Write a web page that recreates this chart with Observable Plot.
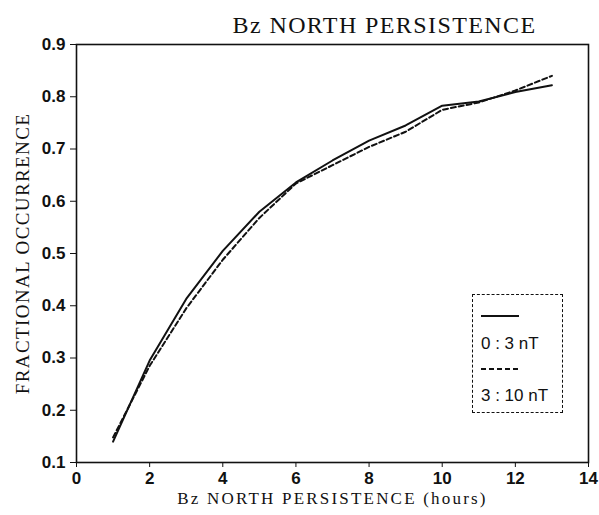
<!DOCTYPE html>
<html>
<head>
<meta charset="utf-8">
<script src="https://cdn.jsdelivr.net/npm/d3@7"></script>
<script src="https://cdn.jsdelivr.net/npm/@observablehq/plot@0.6"></script>
<style>
  html, body { margin: 0; padding: 0; background: #fff; }
  #wrap { position: relative; width: 599px; height: 515px; }
  #legend { position: absolute; left: 472px; top: 294px; width: 91px; height: 119px;
            border: 1.5px dashed #111; box-sizing: border-box; }
  .lg { position: absolute; font-family: "Liberation Sans", Arial, sans-serif; font-size: 17px; color: #111; white-space: nowrap; }
</style>
</head>
<body>
<div id="wrap"></div>
<script>
const hours = [1, 2, 3, 4, 5, 6, 7, 8, 9, 10, 11, 12, 13];
const solid03 = [0.14, 0.295, 0.413, 0.505, 0.58, 0.636, 0.678, 0.716, 0.745, 0.783, 0.791, 0.809, 0.822];
const dashed310 = [0.148, 0.285, 0.395, 0.488, 0.568, 0.634, 0.669, 0.704, 0.733, 0.775, 0.789, 0.812, 0.840];
const xTicks = [0, 2, 4, 6, 8, 10, 12, 14];
const yTicks = [0.1, 0.2, 0.3, 0.4, 0.5, 0.6, 0.7, 0.8, 0.9];
const seriesNames = ["0 : 3 nT", "3 : 10 nT"];
const titleText = "Bz NORTH PERSISTENCE";
const xLabel = "Bz NORTH PERSISTENCE (hours)";
const yLabel = "FRACTIONAL OCCURRENCE";

const rows = [];
hours.forEach((h, i) => {
  rows.push({h, v: solid03[i], s: seriesNames[0]});
  rows.push({h, v: dashed310[i], s: seriesNames[1]});
});

const serif = "'Liberation Serif', 'Times New Roman', serif";
const sans = "'Liberation Sans', Arial, sans-serif";

const chart = Plot.plot({
  width: 599,
  height: 515,
  marginLeft: 76,
  marginRight: 11,
  marginTop: 44,
  marginBottom: 53,
  style: {background: "#fff", color: "#111"},
  x: {domain: [0, 14]},
  y: {domain: [0.1, 0.9]},
  marks: [
    Plot.frame({stroke: "#111", strokeWidth: 1.6}),
    Plot.axisX({ticks: xTicks, tickSize: 5, tickPadding: 4, label: null,
      fontFamily: sans, fontSize: 17, fontWeight: "bold", fill: "#111"}),
    Plot.axisY({ticks: yTicks, tickSize: 6, tickPadding: 5, label: null, tickFormat: d3.format(".1f"),
      fontFamily: sans, fontSize: 17, fontWeight: "bold", fill: "#111"}),
    Plot.line(rows.filter(d => d.s === seriesNames[0]), {x: "h", y: "v", stroke: "#111", strokeWidth: 2}),
    Plot.line(rows.filter(d => d.s === seriesNames[1]), {x: "h", y: "v", stroke: "#111", strokeWidth: 2, strokeDasharray: "5,3"}),
    Plot.text([titleText], {frameAnchor: "top", dx: 52, dy: -12, lineAnchor: "bottom", fontFamily: serif, fontSize: 24, fill: "#111"}),
    Plot.text([xLabel], {frameAnchor: "bottom", dy: 41, lineAnchor: "bottom", fontFamily: serif, fontSize: 17, fill: "#111"}),
    Plot.text([yLabel], {frameAnchor: "left", textAnchor: "middle", dx: -54, rotate: -90, fontFamily: serif, fontSize: 19, fill: "#111"})
  ]
});

d3.select(chart).selectAll("text").each(function() {
  const t = this.textContent;
  if (t === titleText) this.style.letterSpacing = "1.4px";
  else if (t === xLabel) this.style.letterSpacing = "2.2px";
  else if (t === yLabel) this.style.letterSpacing = "1.4px";
});

const wrap = document.getElementById("wrap");
wrap.appendChild(chart);

const lg = document.createElement("div");
lg.id = "legend";
lg.innerHTML = `
  <svg style="position:absolute;left:0;top:0" width="91" height="119">
    <line x1="8" x2="46" y1="21" y2="21" stroke="#111" stroke-width="2"/>
    <line x1="8" x2="46" y1="74" y2="74" stroke="#111" stroke-width="2" stroke-dasharray="5,3"/>
  </svg>
  <div class="lg" style="left:8px;top:39px">${seriesNames[0]}</div>
  <div class="lg" style="left:8px;top:91px">${seriesNames[1]}</div>`;
wrap.appendChild(lg);
</script>
</body>
</html>
